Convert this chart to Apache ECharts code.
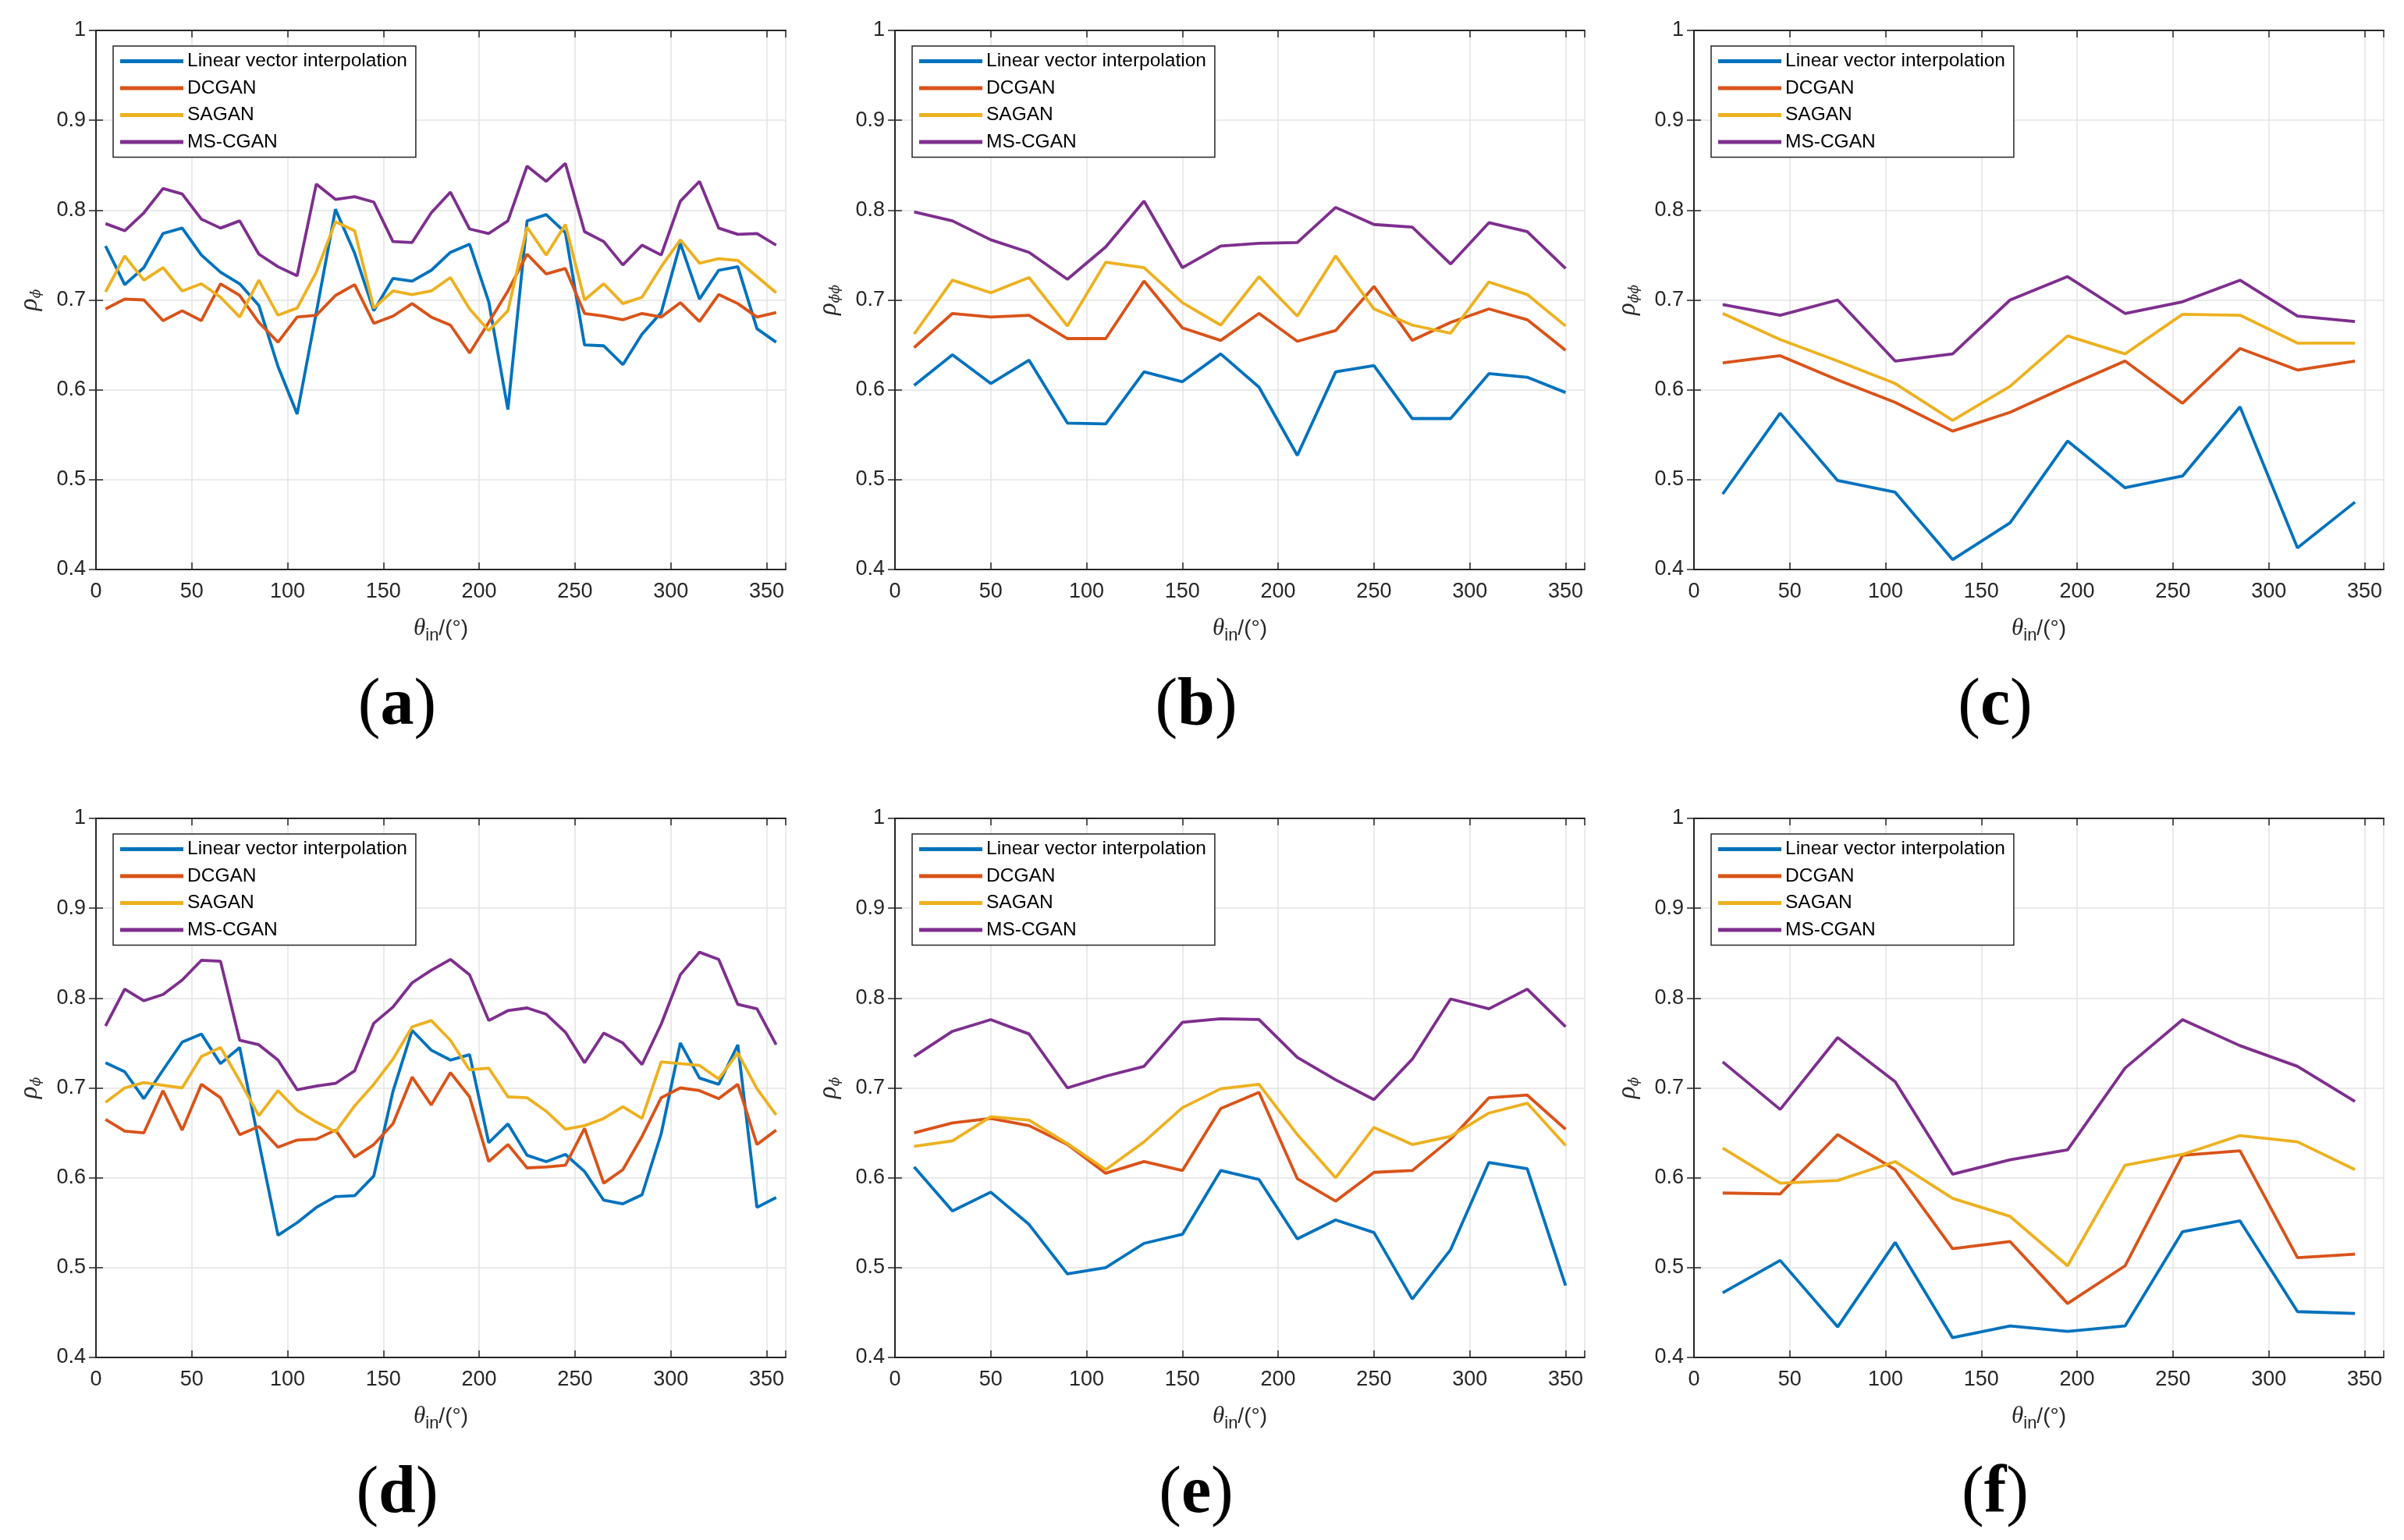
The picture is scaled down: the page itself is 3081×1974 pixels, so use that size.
<!DOCTYPE html>
<html>
<head>
<meta charset="utf-8">
<script src="https://cdn.jsdelivr.net/npm/echarts@6/dist/echarts.min.js"></script>
<style>
html,body{margin:0;padding:0;background:#fff;}
#chart{width:3081px;height:1974px;}
</style>
</head>
<body>
<div id="chart"></div>
<script>
// ---------- data ----------
const seriesNames = ['Linear vector interpolation', 'DCGAN', 'SAGAN', 'MS-CGAN'];
const colors = ['#0072BD', '#D95319', '#EDB120', '#7E2F8E'];
const xTicks = [0, 50, 100, 150, 200, 250, 300, 350];
const yTicks = [0.4, 0.5, 0.6, 0.7, 0.8, 0.9, 1];

const xA = [5,15,25,35,45,55,65,75,85,95,105,115,125,135,145,155,165,175,185,195,205,215,225,235,245,255,265,275,285,295,305,315,325,335,345,355];
const aBlue   = [0.760,0.717,0.736,0.774,0.780,0.750,0.731,0.718,0.694,0.626,0.573,0.686,0.801,0.752,0.688,0.724,0.721,0.733,0.753,0.762,0.698,0.578,0.788,0.795,0.775,0.650,0.649,0.628,0.662,0.686,0.763,0.701,0.733,0.737,0.668,0.653];
const aOrange = [0.690,0.701,0.700,0.677,0.688,0.677,0.718,0.705,0.675,0.653,0.681,0.683,0.705,0.717,0.674,0.682,0.696,0.681,0.672,0.641,0.675,0.710,0.751,0.729,0.735,0.685,0.682,0.678,0.685,0.681,0.697,0.676,0.706,0.696,0.681,0.686];
const aYellow = [0.709,0.749,0.722,0.736,0.710,0.718,0.703,0.681,0.722,0.683,0.691,0.731,0.787,0.777,0.691,0.710,0.706,0.710,0.725,0.690,0.666,0.688,0.781,0.750,0.784,0.700,0.718,0.696,0.703,0.737,0.767,0.741,0.746,0.744,0.726,0.708];
const aPurple = [0.785,0.777,0.797,0.824,0.818,0.790,0.780,0.788,0.751,0.737,0.727,0.829,0.812,0.815,0.809,0.765,0.764,0.797,0.820,0.779,0.774,0.788,0.849,0.832,0.852,0.776,0.765,0.739,0.761,0.750,0.810,0.832,0.780,0.773,0.774,0.761];

const xB = [10,30,50,70,90,110,130,150,170,190,210,230,250,270,290,310,330,350];
const bBlue   = [0.605,0.639,0.607,0.633,0.563,0.562,0.620,0.609,0.640,0.603,0.527,0.620,0.627,0.568,0.568,0.618,0.614,0.597];
const bOrange = [0.647,0.685,0.681,0.683,0.657,0.657,0.721,0.669,0.655,0.685,0.654,0.666,0.715,0.655,0.675,0.690,0.678,0.644];
const bYellow = [0.662,0.722,0.708,0.725,0.671,0.742,0.736,0.697,0.672,0.726,0.682,0.749,0.690,0.672,0.663,0.720,0.706,0.671];
const bPurple = [0.798,0.788,0.767,0.753,0.723,0.759,0.810,0.736,0.760,0.763,0.764,0.803,0.784,0.781,0.740,0.786,0.776,0.735];

const xC = [15,45,75,105,135,165,195,225,255,285,315,345];
const cBlue   = [0.484,0.574,0.499,0.486,0.411,0.452,0.543,0.491,0.504,0.581,0.424,0.475];
const cOrange = [0.630,0.638,0.611,0.586,0.554,0.575,0.604,0.632,0.585,0.646,0.622,0.632];
const cYellow = [0.685,0.656,0.632,0.607,0.566,0.604,0.660,0.640,0.684,0.683,0.652,0.652];
const cPurple = [0.695,0.683,0.700,0.632,0.640,0.700,0.726,0.685,0.698,0.722,0.682,0.676];

const xD = [5,15,25,35,45,55,65,75,85,95,105,115,125,135,145,155,165,175,185,195,205,215,225,235,245,255,265,275,285,295,305,315,325,335,345,355];
const dBlue   = [0.728,0.718,0.688,0.720,0.751,0.760,0.727,0.745,0.640,0.536,0.550,0.567,0.579,0.580,0.602,0.696,0.764,0.742,0.731,0.737,0.639,0.660,0.625,0.618,0.626,0.607,0.575,0.571,0.581,0.649,0.750,0.711,0.704,0.748,0.567,0.578];
const dOrange = [0.665,0.652,0.650,0.697,0.653,0.704,0.689,0.648,0.657,0.634,0.642,0.643,0.653,0.623,0.637,0.660,0.712,0.681,0.717,0.690,0.618,0.637,0.611,0.612,0.614,0.655,0.594,0.609,0.646,0.689,0.700,0.697,0.688,0.704,0.637,0.653];
const dYellow = [0.684,0.700,0.706,0.703,0.700,0.735,0.745,0.708,0.669,0.697,0.675,0.662,0.651,0.680,0.704,0.732,0.768,0.775,0.753,0.720,0.722,0.690,0.689,0.674,0.654,0.658,0.666,0.679,0.666,0.729,0.727,0.725,0.710,0.739,0.699,0.670];
const dPurple = [0.769,0.810,0.797,0.804,0.820,0.842,0.841,0.753,0.748,0.731,0.698,0.702,0.705,0.719,0.772,0.790,0.817,0.831,0.843,0.826,0.775,0.786,0.789,0.782,0.762,0.728,0.761,0.750,0.726,0.771,0.826,0.851,0.843,0.793,0.788,0.748];

const xE = [10,30,50,70,90,110,130,150,170,190,210,230,250,270,290,310,330,350];
const eBlue   = [0.612,0.563,0.584,0.548,0.493,0.500,0.527,0.537,0.608,0.598,0.532,0.553,0.539,0.465,0.520,0.617,0.610,0.480];
const eOrange = [0.650,0.661,0.666,0.658,0.637,0.605,0.618,0.608,0.677,0.695,0.599,0.574,0.606,0.608,0.643,0.689,0.692,0.654];
const eYellow = [0.635,0.641,0.668,0.664,0.638,0.609,0.640,0.678,0.699,0.704,0.648,0.600,0.656,0.637,0.646,0.672,0.683,0.636];
const ePurple = [0.735,0.763,0.776,0.760,0.700,0.713,0.724,0.773,0.777,0.776,0.734,0.709,0.687,0.732,0.799,0.788,0.810,0.768];

const xF = [15,45,75,105,135,165,195,225,255,285,315,345];
const fBlue   = [0.472,0.508,0.434,0.528,0.422,0.435,0.429,0.435,0.540,0.552,0.451,0.449];
const fOrange = [0.583,0.582,0.648,0.609,0.521,0.529,0.460,0.502,0.625,0.630,0.511,0.515];
const fYellow = [0.633,0.594,0.597,0.618,0.577,0.557,0.502,0.614,0.626,0.647,0.640,0.609];
const fPurple = [0.729,0.676,0.756,0.707,0.604,0.620,0.631,0.722,0.776,0.747,0.724,0.685];

const panelTags = ['a', 'b', 'c', 'd', 'e', 'f'];
const ySubs = ['\u03D5\u0307', '\u03D5\u0307\u03D5', '\u03D5\u0307\u03D5', '\u03D5\u0307', '\u03D5\u0307', '\u03D5\u0307'];
const panelX = [xA, xB, xC, xD, xE, xF];
const panelY = [
  [aBlue, aOrange, aYellow, aPurple],
  [bBlue, bOrange, bYellow, bPurple],
  [cBlue, cOrange, cYellow, cPurple],
  [dBlue, dOrange, dYellow, dPurple],
  [eBlue, eOrange, eYellow, ePurple],
  [fBlue, fOrange, fYellow, fPurple]
];

// ---------- layout ----------
const AX = '#262626';
const SANS = 'Liberation Sans, Arial, sans-serif';
const SERIF = 'Liberation Serif, Times New Roman, serif';
const colLeft = [123, 1147, 2171];
const rowTop = [39, 1049];
const gw = 884, gh = 691;

const grids = [], xAxes = [], yAxes = [], series = [], legends = [], graphics = [];

for (let i = 0; i < 6; i++) {
  const col = i % 3, row = Math.floor(i / 3);
  const left = colLeft[col], top = rowTop[row];
  grids.push({ left: left, top: top, width: gw, height: gh, containLabel: false });

  const axisCommon = {
    type: 'value', gridIndex: i, min: 0, max: 360, interval: 50,
    axisLine: { show: true, lineStyle: { color: AX, width: 2 } },
    axisTick: { show: true, inside: true, length: 9, lineStyle: { color: AX, width: 1.5 } }
  };
  xAxes.push(Object.assign({}, axisCommon, {
    position: 'bottom',
    axisLabel: {
      show: true, margin: 15, color: AX, fontFamily: SANS, fontSize: 27,
      formatter: v => (xTicks.indexOf(v) >= 0 ? String(v) : '')
    },
    splitLine: { show: true, lineStyle: { color: '#e3e3e3', width: 1.5 } },
    name: '{t|\u03B8}{s|in}{n|/(\u00B0)}',
    nameLocation: 'middle', nameGap: 56,
    nameTextStyle: {
      color: AX,
      rich: {
        t: { fontFamily: SERIF, fontStyle: 'italic', fontSize: 31, color: AX },
        s: { fontFamily: SANS, fontSize: 22, color: AX, verticalAlign: 'bottom', padding: [18, 0, 0, 0] },
        n: { fontFamily: SANS, fontSize: 28, color: AX }
      }
    }
  }));
  xAxes.push(Object.assign({}, axisCommon, {
    position: 'top', axisLabel: { show: false }, splitLine: { show: false }
  }));

  const yCommon = {
    type: 'value', gridIndex: i, min: 0.4, max: 1, interval: 0.1,
    axisLine: { show: true, lineStyle: { color: AX, width: 2 } },
    axisTick: { show: true, inside: true, length: 9, lineStyle: { color: AX, width: 1.5 } }
  };
  yAxes.push(Object.assign({}, yCommon, {
    position: 'left',
    axisLabel: {
      show: true, margin: 13, color: AX, fontFamily: SANS, fontSize: 27,
      formatter: v => { const r = Math.round(v * 10) / 10; return yTicks.indexOf(r) >= 0 ? String(r) : ''; }
    },
    splitLine: { show: true, lineStyle: { color: '#e3e3e3', width: 1.5 } },
    name: '{r|\u03C1}{s|' + ySubs[i] + '}',
    nameLocation: 'middle', nameRotate: 90, nameGap: 68,
    nameTextStyle: {
      color: AX,
      rich: {
        r: { fontFamily: SERIF, fontStyle: 'italic', fontSize: 33, color: AX },
        s: { fontFamily: 'DejaVu Serif, ' + SERIF, fontStyle: 'italic', fontSize: 17, color: AX, verticalAlign: 'bottom', padding: [16, 0, 0, 0] }
      }
    }
  }));
  yAxes.push(Object.assign({}, yCommon, {
    position: 'right', axisLabel: { show: false }, splitLine: { show: false }
  }));

  for (let k = 0; k < 4; k++) {
    series.push({
      name: seriesNames[k], type: 'line',
      xAxisIndex: i * 2, yAxisIndex: i * 2,
      data: panelX[i].map((x, j) => [x, panelY[i][k][j]]),
      showSymbol: false, symbol: 'none', silent: true, animation: false,
      lineStyle: { color: colors[k], width: 3.8 },
      itemStyle: { color: colors[k] },
      z: 3 + k
    });
  }

  legends.push({
    show: true, orient: 'vertical',
    left: left + 22, top: top + 20,
    data: seriesNames,
    icon: 'rect', itemWidth: 81, itemHeight: 5, itemGap: 9.5,
    padding: [7, 11, 7, 9],
    backgroundColor: '#ffffff', borderColor: AX, borderWidth: 1.5,
    textStyle: { fontFamily: SANS, fontSize: 24.5, color: '#000', lineHeight: 24, padding: [0, 0, 0, 0] },
    selectedMode: false, z: 10
  });

  graphics.push({
    type: 'text', x: 509 + col * 1024, y: 906 + row * 1010,
    style: {
      text: '{p|(}{b|' + panelTags[i] + '}{p|)}',
      align: 'center', verticalAlign: 'middle',
      rich: {
        p: { fontFamily: SERIF, fontSize: 86, fill: '#000' },
        b: { fontFamily: SERIF, fontWeight: 'bold', fontSize: 86, fill: '#000' }
      }
    }
  });
}

const chart = echarts.init(document.getElementById('chart'), null, { renderer: 'canvas', width: 3081, height: 1974 });
chart.setOption({
  backgroundColor: '#ffffff',
  animation: false,
  grid: grids,
  xAxis: xAxes,
  yAxis: yAxes,
  legend: legends,
  series: series,
  graphic: graphics
});
</script>
</body>
</html>
